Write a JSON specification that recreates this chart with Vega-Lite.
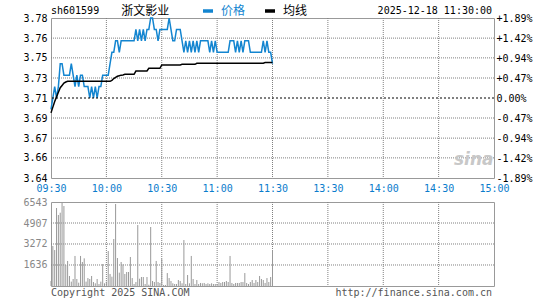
{
"$schema": "https://vega.github.io/schema/vega-lite/v6.json",
"background": "white",
"padding": {"left": 22, "top": 4, "right": 5, "bottom": 0},
"config": {
  "view": {"stroke": "#999999", "strokeWidth": 1},
  "font": "DejaVu Sans Mono",
  "axis": {"labelFont": "DejaVu Sans Mono", "labelFontSize": 10, "tickSize": 0, "domain": false, "title": null, "tickCount": 20, "grid": false}
},
"datasets": {"d": [
{"m":0,"价格":3.70,"均线":3.697,"vol":390},
{"m":1,"价格":3.71,"均线":3.702,"vol":3115},
{"m":2,"价格":3.72,"均线":3.707,"vol":2800},
{"m":3,"价格":3.71,"均线":3.711,"vol":6075},
{"m":4,"价格":3.72,"均线":3.715,"vol":5530},
{"m":5,"价格":3.74,"均线":3.719,"vol":5710},
{"m":6,"价格":3.74,"均线":3.721,"vol":6543},
{"m":7,"价格":3.73,"均线":3.723,"vol":6230},
{"m":8,"价格":3.73,"均线":3.724,"vol":1635},
{"m":9,"价格":3.73,"均线":3.7246,"vol":1950},
{"m":10,"价格":3.73,"均线":3.7246,"vol":780},
{"m":11,"价格":3.74,"均线":3.7246,"vol":340},
{"m":12,"价格":3.73,"均线":3.7246,"vol":545},
{"m":13,"价格":3.72,"均线":3.7246,"vol":2340},
{"m":14,"价格":3.73,"均线":3.7246,"vol":545},
{"m":15,"价格":3.72,"均线":3.7246,"vol":260},
{"m":16,"价格":3.73,"均线":3.7246,"vol":2340},
{"m":17,"价格":3.73,"均线":3.7246,"vol":1870},
{"m":18,"价格":3.72,"均线":3.7246,"vol":2155},
{"m":19,"价格":3.72,"均线":3.7246,"vol":340},
{"m":20,"价格":3.72,"均线":3.7246,"vol":620},
{"m":21,"价格":3.71,"均线":3.7246,"vol":545},
{"m":22,"价格":3.72,"均线":3.7246,"vol":780},
{"m":23,"价格":3.71,"均线":3.7246,"vol":310},
{"m":24,"价格":3.72,"均线":3.7246,"vol":210},
{"m":25,"价格":3.71,"均线":3.7246,"vol":545},
{"m":26,"价格":3.72,"均线":3.7246,"vol":155},
{"m":27,"价格":3.72,"均线":3.7246,"vol":340},
{"m":28,"价格":3.73,"均线":3.7246,"vol":1710},
{"m":29,"价格":3.73,"均线":3.7246,"vol":210},
{"m":30,"价格":3.73,"均线":3.7246,"vol":340},
{"m":31,"价格":3.73,"均线":3.7246,"vol":2725},
{"m":32,"价格":3.74,"均线":3.7246,"vol":935},
{"m":33,"价格":3.75,"均线":3.7255,"vol":725},
{"m":34,"价格":3.75,"均线":3.727,"vol":3660},
{"m":35,"价格":3.76,"均线":3.728,"vol":6385},
{"m":36,"价格":3.76,"均线":3.729,"vol":2180},
{"m":37,"价格":3.75,"均线":3.7295,"vol":1040},
{"m":38,"价格":3.76,"均线":3.730,"vol":1870},
{"m":39,"价格":3.76,"均线":3.7302,"vol":1690},
{"m":40,"价格":3.76,"均线":3.7307,"vol":935},
{"m":41,"价格":3.76,"均线":3.7307,"vol":1090},
{"m":42,"价格":3.76,"均线":3.7307,"vol":1090},
{"m":43,"价格":3.76,"均线":3.7307,"vol":2260},
{"m":44,"价格":3.76,"均线":3.7307,"vol":620},
{"m":45,"价格":3.76,"均线":3.7307,"vol":155},
{"m":46,"价格":3.77,"均线":3.7336,"vol":310},
{"m":47,"价格":3.76,"均线":3.7336,"vol":4750},
{"m":48,"价格":3.77,"均线":3.7336,"vol":570},
{"m":49,"价格":3.76,"均线":3.7336,"vol":700},
{"m":50,"价格":3.77,"均线":3.7336,"vol":700},
{"m":51,"价格":3.76,"均线":3.7336,"vol":155},
{"m":52,"价格":3.77,"均线":3.7336,"vol":700},
{"m":53,"价格":3.77,"均线":3.736,"vol":100},
{"m":54,"价格":3.78,"均线":3.736,"vol":4595},
{"m":55,"价格":3.78,"均线":3.736,"vol":390},
{"m":56,"价格":3.77,"均线":3.736,"vol":310},
{"m":57,"价格":3.77,"均线":3.736,"vol":1950},
{"m":58,"价格":3.76,"均线":3.736,"vol":310},
{"m":59,"价格":3.77,"均线":3.736,"vol":235},
{"m":60,"价格":3.77,"均线":3.7389,"vol":2100},
{"m":61,"价格":3.77,"均线":3.7389,"vol":80},
{"m":62,"价格":3.77,"均线":3.7389,"vol":80},
{"m":63,"价格":3.77,"均线":3.7389,"vol":1010},
{"m":64,"价格":3.78,"均线":3.7389,"vol":620},
{"m":65,"价格":3.77,"均线":3.7389,"vol":390},
{"m":66,"价格":3.76,"均线":3.7389,"vol":210},
{"m":67,"价格":3.76,"均线":3.7389,"vol":155},
{"m":68,"价格":3.77,"均线":3.7389,"vol":155},
{"m":69,"价格":3.77,"均线":3.7389,"vol":465},
{"m":70,"价格":3.77,"均线":3.7389,"vol":390},
{"m":71,"价格":3.76,"均线":3.7395,"vol":210},
{"m":72,"价格":3.75,"均线":3.7395,"vol":3580},
{"m":73,"价格":3.76,"均线":3.7395,"vol":155},
{"m":74,"价格":3.75,"均线":3.7395,"vol":855},
{"m":75,"价格":3.76,"均线":3.7395,"vol":210},
{"m":76,"价格":3.75,"均线":3.7395,"vol":2340},
{"m":77,"价格":3.76,"均线":3.7395,"vol":545},
{"m":78,"价格":3.75,"均线":3.7395,"vol":155},
{"m":79,"价格":3.76,"均线":3.7404,"vol":465},
{"m":80,"价格":3.75,"均线":3.7404,"vol":155},
{"m":81,"价格":3.76,"均线":3.7404,"vol":235},
{"m":82,"价格":3.76,"均线":3.7404,"vol":210},
{"m":83,"价格":3.76,"均线":3.7404,"vol":235},
{"m":84,"价格":3.76,"均线":3.7404,"vol":155},
{"m":85,"价格":3.76,"均线":3.7404,"vol":210},
{"m":86,"价格":3.75,"均线":3.7404,"vol":155},
{"m":87,"价格":3.76,"均线":3.7404,"vol":210},
{"m":88,"价格":3.75,"均线":3.7404,"vol":155},
{"m":89,"价格":3.76,"均线":3.7404,"vol":155},
{"m":90,"价格":3.75,"均线":3.7404,"vol":155},
{"m":91,"价格":3.75,"均线":3.7404,"vol":310},
{"m":92,"价格":3.75,"均线":3.7404,"vol":235},
{"m":93,"价格":3.75,"均线":3.7404,"vol":310},
{"m":94,"价格":3.75,"均线":3.7404,"vol":310},
{"m":95,"价格":3.75,"均线":3.7404,"vol":390},
{"m":96,"价格":3.75,"均线":3.7404,"vol":310},
{"m":97,"价格":3.76,"均线":3.7404,"vol":2340},
{"m":98,"价格":3.76,"均线":3.7404,"vol":235},
{"m":99,"价格":3.76,"均线":3.7404,"vol":155},
{"m":100,"价格":3.75,"均线":3.7404,"vol":235},
{"m":101,"价格":3.76,"均线":3.7404,"vol":235},
{"m":102,"价格":3.75,"均线":3.7404,"vol":235},
{"m":103,"价格":3.76,"均线":3.7404,"vol":310},
{"m":104,"价格":3.75,"均线":3.7404,"vol":310},
{"m":105,"价格":3.76,"均线":3.7404,"vol":1010},
{"m":106,"价格":3.76,"均线":3.7404,"vol":235},
{"m":107,"价格":3.76,"均线":3.7404,"vol":155},
{"m":108,"价格":3.75,"均线":3.7404,"vol":310},
{"m":109,"价格":3.75,"均线":3.7404,"vol":465},
{"m":110,"价格":3.75,"均线":3.7404,"vol":235},
{"m":111,"价格":3.75,"均线":3.7404,"vol":465},
{"m":112,"价格":3.75,"均线":3.7404,"vol":310},
{"m":113,"价格":3.75,"均线":3.7404,"vol":780},
{"m":114,"价格":3.75,"均线":3.7404,"vol":545},
{"m":115,"价格":3.76,"均线":3.7404,"vol":465},
{"m":116,"价格":3.75,"均线":3.741,"vol":235},
{"m":117,"价格":3.76,"均线":3.741,"vol":620},
{"m":118,"价格":3.75,"均线":3.741,"vol":310},
{"m":119,"价格":3.75,"均线":3.741,"vol":700},
{"m":120,"价格":3.74,"均线":3.741,"vol":2800}
]},
"vconcat": [
{
  "width": 443, "height": 160,
  "data": {"name": "d"},
  "layer": [
    {"layer": [
      {"data": {"values": [{}]}, "mark": {"type": "rule", "color": "#808080", "strokeDash": [1, 1], "strokeWidth": 1}, "encoding": {"x": {"datum": 30, "type": "quantitative"}}},
      {"data": {"values": [{}]}, "mark": {"type": "rule", "color": "#808080", "strokeDash": [1, 1], "strokeWidth": 1}, "encoding": {"x": {"datum": 60, "type": "quantitative"}}},
      {"data": {"values": [{}]}, "mark": {"type": "rule", "color": "#808080", "strokeDash": [1, 1], "strokeWidth": 1}, "encoding": {"x": {"datum": 90, "type": "quantitative"}}},
      {"data": {"values": [{}]}, "mark": {"type": "rule", "color": "#808080", "strokeDash": [1, 1], "strokeWidth": 1}, "encoding": {"x": {"datum": 120, "type": "quantitative"}}},
      {"data": {"values": [{}]}, "mark": {"type": "rule", "color": "#808080", "strokeDash": [1, 1], "strokeWidth": 1}, "encoding": {"x": {"datum": 150, "type": "quantitative"}}},
      {"data": {"values": [{}]}, "mark": {"type": "rule", "color": "#808080", "strokeDash": [1, 1], "strokeWidth": 1}, "encoding": {"x": {"datum": 180, "type": "quantitative"}}},
      {"data": {"values": [{}]}, "mark": {"type": "rule", "color": "#808080", "strokeDash": [1, 1], "strokeWidth": 1}, "encoding": {"x": {"datum": 210, "type": "quantitative"}}},
      {"data": {"values": [{}]}, "mark": {"type": "rule", "color": "#808080", "strokeDash": [1, 1], "strokeWidth": 1}, "encoding": {"y": {"datum": 3.6576, "type": "quantitative"}}},
      {"data": {"values": [{}]}, "mark": {"type": "rule", "color": "#808080", "strokeDash": [1, 1], "strokeWidth": 1}, "encoding": {"y": {"datum": 3.6749, "type": "quantitative"}}},
      {"data": {"values": [{}]}, "mark": {"type": "rule", "color": "#808080", "strokeDash": [1, 1], "strokeWidth": 1}, "encoding": {"y": {"datum": 3.6925, "type": "quantitative"}}},
      {"data": {"values": [{}]}, "mark": {"type": "rule", "color": "#808080", "strokeDash": [1, 1], "strokeWidth": 1}, "encoding": {"y": {"datum": 3.7275, "type": "quantitative"}}},
      {"data": {"values": [{}]}, "mark": {"type": "rule", "color": "#808080", "strokeDash": [1, 1], "strokeWidth": 1}, "encoding": {"y": {"datum": 3.7451, "type": "quantitative"}}},
      {"data": {"values": [{}]}, "mark": {"type": "rule", "color": "#808080", "strokeDash": [1, 1], "strokeWidth": 1}, "encoding": {"y": {"datum": 3.7624, "type": "quantitative"}}},
      {
        "transform": [{"fold": ["价格", "均线"], "as": ["series", "value"]}],
        "mark": {"type": "line", "strokeWidth": 1.5},
        "encoding": {
          "x": {"field": "m", "type": "quantitative", "scale": {"domain": [0, 240], "nice": false},
                "axis": {"values": [0, 30, 60, 90, 120, 150, 180, 210, 240], "tickCount": 20, "grid": false,
                         "labelOverlap": false, "labelFlush": false, "labelPadding": 5, "labelColor": "#0a7ccc",
                         "labelExpr": "['09:30','10:00','10:30','11:00','11:30','13:30','14:00','14:30','15:00'][round(datum.value/30)]"}},
          "y": {"field": "value", "type": "quantitative", "scale": {"domain": [3.64, 3.78], "nice": false, "zero": false},
                "axis": {"values": [3.64, 3.6576, 3.6749, 3.6925, 3.71, 3.7275, 3.7451, 3.7624, 3.78], "tickCount": 20, "labelExpr": "format(datum.value, '.2f')", "labelPadding": 4,
                         "labelOverlap": false, "labelFlush": false, "grid": false,
                         "encode": {"labels": {"update": {"fill": {"signal": "datum.value > 3.711 ? '#ff0000' : datum.value < 3.709 ? '#0a7ccc' : '#000000'"}}}}}},
          "color": {"field": "series", "type": "nominal", "sort": ["价格", "均线"],
                    "scale": {"domain": ["价格", "均线"], "range": ["#1385d0", "#000000"]},
                    "legend": {"title": null, "orient": "none", "legendX": 150, "legendY": -14, "direction": "horizontal",
                               "symbolType": "stroke", "symbolStrokeWidth": 3.5, "symbolSize": 100, "labelFont": "Noto Sans CJK SC",
                               "labelFontSize": 12, "labelOffset": 6, "columnPadding": 12, "padding": 0,
                               "encode": {"labels": {"update": {"fill": {"signal": "datum.value === '价格' ? '#1385d0' : '#000000'"}}}}}}
        }
      },
      {"data": {"values": [{}]}, "mark": {"type": "text", "text": "sh601599", "align": "left", "baseline": "middle", "font": "DejaVu Sans Mono", "fontSize": 10, "color": "#000000"},
       "encoding": {"x": {"datum": 0, "type": "quantitative"}, "y": {"datum": 3.7861, "type": "quantitative"}}},
      {"data": {"values": [{}]}, "mark": {"type": "text", "text": "浙文影业", "align": "left", "baseline": "middle", "font": "Noto Sans CJK SC", "fontSize": 12, "color": "#000000"},
       "encoding": {"x": {"datum": 38, "type": "quantitative"}, "y": {"datum": 3.7861, "type": "quantitative"}}},
      {"data": {"values": [{}]}, "mark": {"type": "text", "text": "2025-12-18 11:30:00", "align": "right", "baseline": "middle", "dx": -2, "font": "DejaVu Sans Mono", "fontSize": 10, "color": "#000000"},
       "encoding": {"x": {"datum": 240, "type": "quantitative"}, "y": {"datum": 3.7861, "type": "quantitative"}}},
      {"data": {"values": [{}]}, "mark": {"type": "text", "text": "sina", "align": "center", "baseline": "middle", "font": "DejaVu Sans", "fontSize": 17, "fontStyle": "italic", "fontWeight": "bold", "color": "#c8c8c8"},
       "encoding": {"x": {"datum": 229, "type": "quantitative"}, "y": {"datum": 3.6555, "type": "quantitative"}}}
    ]},
    {
      "data": {"values": [{}]},
      "mark": {"type": "rule", "color": "#000000", "strokeDash": [2, 2], "strokeWidth": 1},
      "encoding": {
        "y": {"datum": 0, "type": "quantitative", "scale": {"domain": [-1.8868, 1.8868], "nice": false, "zero": false},
              "axis": {"orient": "right", "values": [-1.8868, -1.4151, -0.9434, -0.4717, 0, 0.4717, 0.9434, 1.4151, 1.8868], "tickCount": 20, "grid": false, "labelPadding": 2,
                       "labelOverlap": false, "labelFlush": false,
                       "labelExpr": "datum.value > 0.001 ? '+' + format(datum.value, '.2f') + '%' : datum.value < -0.001 ? '-' + format(-datum.value, '.2f') + '%' : '0.00%'",
                       "encode": {"labels": {"update": {"fill": {"signal": "datum.value > 0.001 ? '#ff0000' : datum.value < -0.001 ? '#0a7ccc' : '#000000'"}}}}}}
      }
    }
  ],
  "resolve": {"scale": {"y": "independent"}, "axis": {"y": "independent"}}
},
{
  "width": 443, "height": 84,
  "data": {"name": "d"},
  "layer": [
    {"data": {"values": [{}]}, "mark": {"type": "rule", "color": "#808080", "strokeDash": [1, 1], "strokeWidth": 1}, "encoding": {"x": {"datum": 30, "type": "quantitative"}}},
    {"data": {"values": [{}]}, "mark": {"type": "rule", "color": "#808080", "strokeDash": [1, 1], "strokeWidth": 1}, "encoding": {"x": {"datum": 60, "type": "quantitative"}}},
    {"data": {"values": [{}]}, "mark": {"type": "rule", "color": "#808080", "strokeDash": [1, 1], "strokeWidth": 1}, "encoding": {"x": {"datum": 90, "type": "quantitative"}}},
    {"data": {"values": [{}]}, "mark": {"type": "rule", "color": "#808080", "strokeDash": [1, 1], "strokeWidth": 1}, "encoding": {"x": {"datum": 120, "type": "quantitative"}}},
    {"data": {"values": [{}]}, "mark": {"type": "rule", "color": "#808080", "strokeDash": [1, 1], "strokeWidth": 1}, "encoding": {"x": {"datum": 150, "type": "quantitative"}}},
    {"data": {"values": [{}]}, "mark": {"type": "rule", "color": "#808080", "strokeDash": [1, 1], "strokeWidth": 1}, "encoding": {"x": {"datum": 180, "type": "quantitative"}}},
    {"data": {"values": [{}]}, "mark": {"type": "rule", "color": "#808080", "strokeDash": [1, 1], "strokeWidth": 1}, "encoding": {"x": {"datum": 210, "type": "quantitative"}}},
    {"data": {"values": [{}]}, "mark": {"type": "rule", "color": "#808080", "strokeDash": [1, 1], "strokeWidth": 1}, "encoding": {"y": {"datum": 1636, "type": "quantitative"}}},
    {"data": {"values": [{}]}, "mark": {"type": "rule", "color": "#808080", "strokeDash": [1, 1], "strokeWidth": 1}, "encoding": {"y": {"datum": 3272, "type": "quantitative"}}},
    {"data": {"values": [{}]}, "mark": {"type": "rule", "color": "#808080", "strokeDash": [1, 1], "strokeWidth": 1}, "encoding": {"y": {"datum": 4907, "type": "quantitative"}}},
    {
      "mark": {"type": "rule", "color": "#999999", "strokeWidth": 1},
      "encoding": {
        "x": {"field": "m", "type": "quantitative", "scale": {"domain": [0, 240], "nice": false},
              "axis": {"values": [0, 30, 60, 90, 120, 150, 180, 210, 240], "tickCount": 20, "labels": false, "grid": false}},
        "y": {"field": "vol", "type": "quantitative", "scale": {"domain": [0, 6543], "nice": false},
              "axis": {"values": [1636, 3272, 4907, 6543], "tickCount": 20, "labelExpr": "format(datum.value, 'd')", "labelColor": "#888888", "labelPadding": 4, "labelOverlap": false, "labelFlush": false, "grid": false}},
        "y2": {"datum": 0}
      }
    },
    {"data": {"values": [{}]}, "mark": {"type": "text", "text": "Copyright 2025 SINA.COM", "align": "left", "baseline": "middle", "font": "DejaVu Sans Mono", "fontSize": 10, "color": "#555555"},
     "encoding": {"x": {"datum": 0, "type": "quantitative"}, "y": {"datum": -560, "type": "quantitative"}}},
    {"data": {"values": [{}]}, "mark": {"type": "text", "text": "http://finance.sina.com.cn", "align": "right", "baseline": "middle", "dx": -2, "font": "DejaVu Sans Mono", "fontSize": 10, "color": "#555555"},
     "encoding": {"x": {"datum": 240, "type": "quantitative"}, "y": {"datum": -560, "type": "quantitative"}}}
  ]
}
],
"spacing": 24,
"bounds": "flush"
}
